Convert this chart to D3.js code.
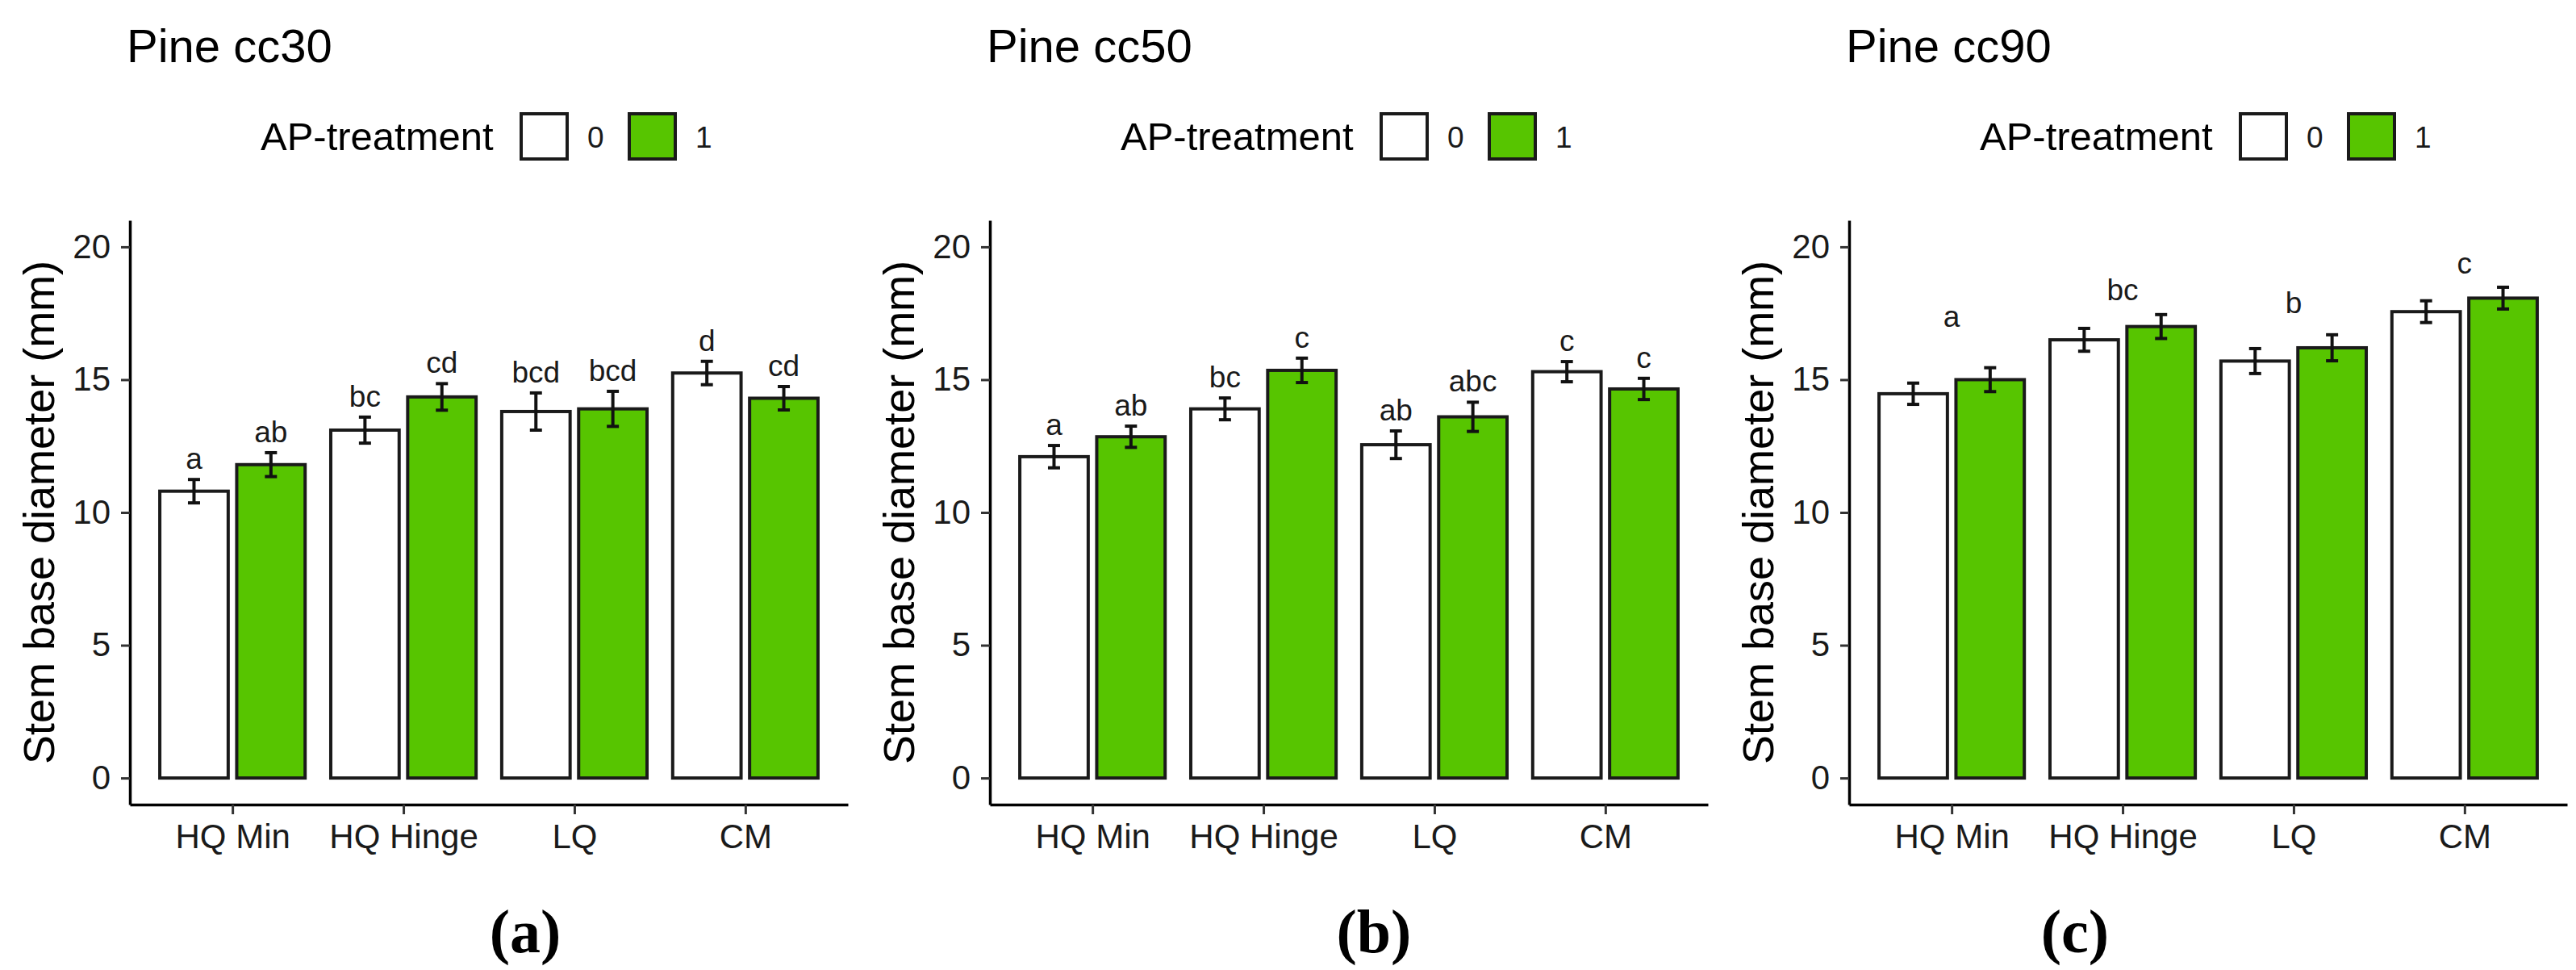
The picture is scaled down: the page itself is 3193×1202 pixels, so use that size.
<!DOCTYPE html>
<html>
<head>
<meta charset="utf-8">
<script src="https://cdn.jsdelivr.net/npm/d3@7"></script>
<style>
  body { margin: 0; background: #fff; }
  text { font-family: "Liberation Sans", Arial, sans-serif; }
  text.tag { font-family: "Liberation Serif", "Times New Roman", serif; font-weight: bold; }
</style>
</head>
<body>
<div id="chart-area"></div>
<script>
// ---- data ----
var categories = ["HQ Min", "HQ Hinge", "LQ", "CM"];
var treatments = ["0", "1"];
var panelTitles = ["Pine cc30", "Pine cc50", "Pine cc90"];
var panelTags = ["(a)", "(b)", "(c)"];
var yTicks = [0, 5, 10, 15, 20];

// Pine cc30
var cc30Mean0 = [10.8, 13.1, 13.8, 15.25];
var cc30Mean1 = [11.8, 14.35, 13.9, 14.3];
var cc30Se0 = [0.44, 0.49, 0.70, 0.44];
var cc30Se1 = [0.45, 0.50, 0.66, 0.44];
var cc30Letters0 = ["a", "bc", "bcd", "d"];
var cc30Letters1 = ["ab", "cd", "bcd", "cd"];

// Pine cc50
var cc50Mean0 = [12.1, 13.9, 12.55, 15.3];
var cc50Mean1 = [12.85, 15.35, 13.6, 14.65];
var cc50Se0 = [0.42, 0.41, 0.52, 0.38];
var cc50Se1 = [0.40, 0.46, 0.55, 0.40];
var cc50Letters0 = ["a", "bc", "ab", "c"];
var cc50Letters1 = ["ab", "c", "abc", "c"];

// Pine cc90 (one letter per group)
var cc90Mean0 = [14.47, 16.5, 15.7, 17.56];
var cc90Mean1 = [15.0, 17.0, 16.2, 18.07];
var cc90Se0 = [0.40, 0.43, 0.47, 0.41];
var cc90Se1 = [0.45, 0.45, 0.49, 0.41];
var cc90GroupLetters = ["a", "bc", "b", "c"];
var cc90GroupLetterY = [17, 18, 17.5, 19];

var fills = { "0": "#ffffff", "1": "#57c500" };

// ---- layout ----
var W = 3193, H = 1202;
var panelLeft = [161, 1227, 2292];
var tagX = [651, 1703, 2572];
var plotW = 890;
var plotTop = 273, plotBottom = 997;

var svg = d3.select("#chart-area").append("svg")
    .attr("width", W)
    .attr("height", H)
    .style("background", "#fff");

function rows(cats, m0, m1, s0, s1, l0, l1) {
    var out = [];
    cats.forEach(function (c, i) {
        out.push({ cat: c, trt: "0", mean: m0[i], se: s0[i], letter: l0 ? l0[i] : null });
        out.push({ cat: c, trt: "1", mean: m1[i], se: s1[i], letter: l1 ? l1[i] : null });
    });
    return out;
}

var panels = [
    { rows: rows(categories, cc30Mean0, cc30Mean1, cc30Se0, cc30Se1, cc30Letters0, cc30Letters1) },
    { rows: rows(categories, cc50Mean0, cc50Mean1, cc50Se0, cc50Se1, cc50Letters0, cc50Letters1) },
    { rows: rows(categories, cc90Mean0, cc90Mean1, cc90Se0, cc90Se1, null, null),
      groupLetters: cc90GroupLetters, groupLetterY: cc90GroupLetterY }
];

var y = d3.scaleLinear()
    .domain([-1, 21])
    .range([plotBottom, plotTop]);

var x = d3.scalePoint()
    .domain(categories)
    .range([0, plotW])
    .padding(0.6);

var step = x.step();
var xSub = d3.scaleBand()
    .domain(treatments)
    .range([-0.45 * step, 0.45 * step])
    .paddingInner(1 / 9)
    .paddingOuter(1 / 18);

panels.forEach(function (p, pi) {
    var g = svg.append("g")
        .attr("transform", "translate(" + panelLeft[pi] + ",0)");

    // title
    g.append("text")
        .attr("x", -4)
        .attr("y", 77)
        .attr("font-size", "58px")
        .attr("fill", "#000")
        .text(panelTitles[pi]);

    // legend
    var cx = plotW / 2;
    var leg = g.append("g").attr("class", "legend");
    leg.append("text")
        .attr("x", cx - 283)
        .attr("y", 186)
        .attr("font-size", "49px")
        .attr("fill", "#000")
        .text("AP-treatment");
    var keyX = [cx + 40, cx + 174];
    treatments.forEach(function (t, i) {
        leg.append("rect")
            .attr("x", keyX[i])
            .attr("y", 141)
            .attr("width", 57)
            .attr("height", 56)
            .attr("fill", fills[t])
            .attr("stroke", "#1a1a1a")
            .attr("stroke-width", 4);
        leg.append("text")
            .attr("x", keyX[i] + 82)
            .attr("y", 183)
            .attr("font-size", "37px")
            .attr("fill", "#1a1a1a")
            .text(t);
    });

    // axes
    var yAxis = d3.axisLeft(y)
        .tickValues(yTicks)
        .tickSize(11)
        .tickSizeOuter(0)
        .tickPadding(13);
    var ya = g.append("g").attr("class", "y-axis").call(yAxis);

    var xAxis = d3.axisBottom(x)
        .tickSize(12)
        .tickSizeOuter(0)
        .tickPadding(12);
    var xa = g.append("g")
        .attr("class", "x-axis")
        .attr("transform", "translate(0," + plotBottom + ")")
        .call(xAxis);

    [ya, xa].forEach(function (a) {
        a.attr("font-family", null).attr("font-size", null);
        a.select(".domain").attr("stroke", "#000").attr("stroke-width", 3.5);
        a.selectAll(".tick line").attr("stroke", "#333").attr("stroke-width", 3);
        a.selectAll(".tick text")
            .attr("fill", "#1a1a1a")
            .attr("font-size", "42px");
    });

    // y title
    g.append("text")
        .attr("transform", "translate(-94," + ((plotTop + plotBottom) / 2) + ") rotate(-90)")
        .attr("text-anchor", "middle")
        .attr("font-size", "54px")
        .attr("fill", "#000")
        .text("Stem base diameter (mm)");

    // bars
    var bw = xSub.bandwidth();
    var cxOf = function (d) { return x(d.cat) + xSub(d.trt) + bw / 2; };

    g.selectAll("rect.bar")
        .data(p.rows)
        .enter()
        .append("rect")
        .attr("class", "bar")
        .attr("x", function (d) { return x(d.cat) + xSub(d.trt); })
        .attr("y", function (d) { return y(d.mean); })
        .attr("width", bw)
        .attr("height", function (d) { return y(0) - y(d.mean); })
        .attr("fill", function (d) { return fills[d.trt]; })
        .attr("stroke", "#1a1a1a")
        .attr("stroke-width", 4);

    // error bars
    var eb = g.selectAll("g.err")
        .data(p.rows)
        .enter()
        .append("g")
        .attr("class", "err")
        .attr("stroke", "#111")
        .attr("stroke-width", 4);
    eb.append("line")
        .attr("x1", cxOf).attr("x2", cxOf)
        .attr("y1", function (d) { return y(d.mean - d.se); })
        .attr("y2", function (d) { return y(d.mean + d.se); });
    eb.append("line")
        .attr("x1", function (d) { return cxOf(d) - 7.5; })
        .attr("x2", function (d) { return cxOf(d) + 7.5; })
        .attr("y1", function (d) { return y(d.mean + d.se); })
        .attr("y2", function (d) { return y(d.mean + d.se); });
    eb.append("line")
        .attr("x1", function (d) { return cxOf(d) - 7.5; })
        .attr("x2", function (d) { return cxOf(d) + 7.5; })
        .attr("y1", function (d) { return y(d.mean - d.se); })
        .attr("y2", function (d) { return y(d.mean - d.se); });

    // letters
    if (p.groupLetters) {
        g.selectAll("text.sig")
            .data(categories)
            .enter()
            .append("text")
            .attr("class", "sig")
            .attr("x", function (c) { return x(c); })
            .attr("y", function (c, i) { return y(p.groupLetterY[i]); })
            .attr("text-anchor", "middle")
            .attr("font-size", "37px")
            .attr("fill", "#1a1a1a")
            .text(function (c, i) { return p.groupLetters[i]; });
    } else {
        g.selectAll("text.sig")
            .data(p.rows)
            .enter()
            .append("text")
            .attr("class", "sig")
            .attr("x", cxOf)
            .attr("y", function (d) { return y(d.mean + d.se) - 13; })
            .attr("text-anchor", "middle")
            .attr("font-size", "37px")
            .attr("fill", "#1a1a1a")
            .text(function (d) { return d.letter; });
    }

    // panel tag
    svg.append("text")
        .attr("class", "tag")
        .attr("x", tagX[pi])
        .attr("y", 1180)
        .attr("text-anchor", "middle")
        .attr("font-size", "76px")
        .attr("fill", "#000")
        .text(panelTags[pi]);
});
</script>
</body>
</html>
